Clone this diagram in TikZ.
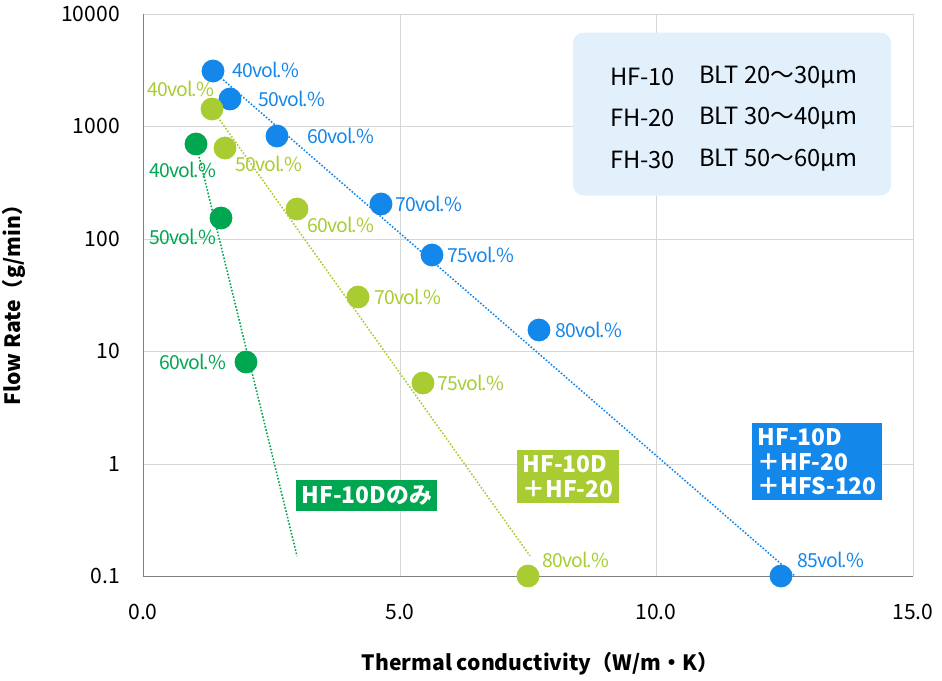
\documentclass[tikz,border=0pt]{standalone}
\usepackage{fontspec}
\setmainfont{Noto Sans CJK JP}
\usepackage{tikz}
\definecolor{cblue}{RGB}{20,135,235}
\definecolor{clime}{RGB}{168,204,50}
\definecolor{cgreen}{RGB}{0,166,80}
\definecolor{cgrid}{RGB}{215,215,215}
\definecolor{cbox}{RGB}{226,240,252}
\tikzset{
  pt/.style={circle, fill=#1, inner sep=0pt, minimum size=13pt},
  lab/.style={anchor=west, text=#1, font=\fontsize{11}{11}\selectfont\addfontfeatures{LetterSpace=-4}, inner sep=1pt},
  trend/.style={#1, densely dotted, line width=0.9pt},
  tag/.style={fill=#1, text=white, font=\bfseries\fontsize{13}{14}\selectfont, align=left, inner sep=3pt},
  tick/.style={font=\fontsize{12}{12}\selectfont}
}
\begin{document}
\begin{tikzpicture}[x=0.02cm, y=-0.02cm]
	\useasboundingbox (0,0) rectangle (942,680);
	% grid
	\foreach \x in {143,400,656,913}
		\draw [cgrid] (\x,14) -- (\x,576);
	\foreach \y in {14,126,239,351,464}
		\draw [cgrid] (143,\y) -- (913,\y);
	\draw [gray] (143,14) -- (143,576) -- (913,576);
	\foreach \y/\t in {14/10000,126/1000,239/100,351/10,464/1,576/0.1}
		\node [tick, anchor=east] at (126,\y) {\t};
	\foreach \x/\t in {143/0.0,400/5.0,656/10.0,913/15.0}
		\node [tick] at (\x,612) {\t};
	\node [font=\bfseries\fontsize{12}{12}\selectfont] at (540,664) {Thermal conductivity（W/m・K）};
	\node [font=\bfseries\fontsize{12}{12}\selectfont, rotate=90] at (14,300) {Flow Rate（g/min）};

	% legend
	\node (legend) [fill=cbox, rounded corners=6pt, minimum width=318*0.02cm, minimum height=163*0.02cm] at (732,114) {};
	\foreach \y/\a/\b in {77/HF-10/BLT 20～30µm,118/FH-20/BLT 30～40µm,160/FH-30/BLT 50～60µm} {
		\node [anchor=west, font=\fontsize{13.5}{14}\selectfont] at (604,\y) {\a};
		\node [anchor=west, font=\fontsize{13.5}{14}\selectfont] at (693,\y) {\b};
	}

	% trend lines
	\coordinate (b-end) at (795,576);
	\coordinate (l-end) at (530,556);
	\coordinate (g-end) at (297,556);
	\draw [trend=cblue] (213,71) -- (b-end);
	\draw [trend=clime] (212,109) -- (l-end);
	\draw [trend=cgreen] (196,144) -- (g-end);

	% HF-10D + HF-20 + HFS-120
	\foreach \n/\x/\y/\lx/\ly/\t in {b1/213/71/230/70/40, b2/230/99/256/99/50, b3/277/136/305/136/60, b4/381/204/393/204/70, b5/432/255/445/255/75, b6/539/330/553/330/80, b7/781/576/795/560/85} {
		\node (\n) [pt=cblue] at (\x,\y) {};
		\node (\n-lab) [lab=cblue] at (\lx,\ly) {\t vol.\%};
	}
	% HF-10D + HF-20
	\foreach \n/\x/\y/\lx/\ly/\t in {l1/212/109/145/89/40, l2/225/148/233/164/50, l3/297/209/305/225/60, l4/358/297/372/297/70, l5/423/383/435/383/75, l6/528/576/540/560/80} {
		\node (\n) [pt=clime] at (\x,\y) {};
		\node (\n-lab) [lab=clime] at (\lx,\ly) {\t vol.\%};
	}
	% HF-10D only
	\foreach \n/\x/\y/\lx/\ly/\t in {g1/196/144/147/170/40, g2/221/218/147/237/50, g3/246/362/157/362/60} {
		\node (\n) [pt=cgreen] at (\x,\y) {};
		\node (\n-lab) [lab=cgreen] at (\lx,\ly) {\t vol.\%};
	}

	% series tags
	\node (tag-g) [tag=cgreen, anchor=north west] at (296,480) {HF-10Dのみ};
	\node (tag-l) [tag=clime, anchor=north west] at (517,450) {HF-10D\\＋HF-20};
	\node (tag-b) [tag=cblue, anchor=north west] at (752,423) {HF-10D\\＋HF-20\\＋HFS-120};
\end{tikzpicture}
\end{document}
